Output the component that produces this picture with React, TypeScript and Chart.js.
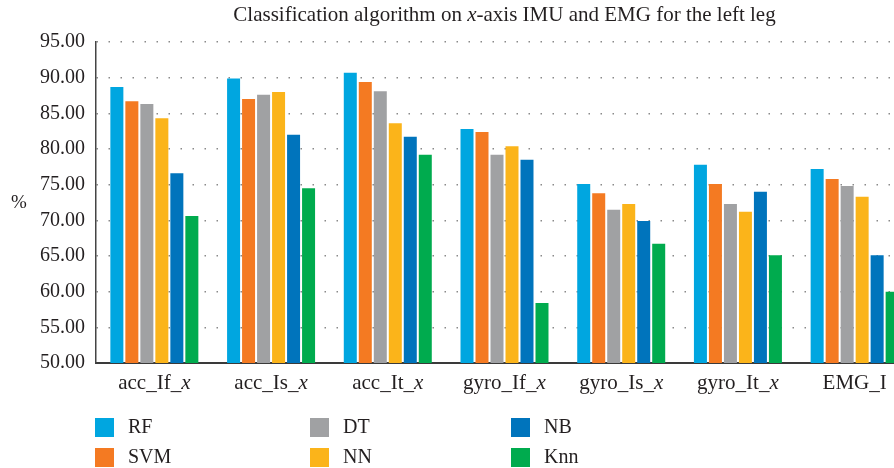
import React, { useEffect, useRef } from "react";
import { Chart, registerables } from "chart.js";

Chart.register(...registerables);

const categories = ["acc_If_x", "acc_Is_x", "acc_It_x", "gyro_If_x", "gyro_Is_x", "gyro_It_x", "EMG_I"];

const rfValues = [88.7, 89.9, 90.7, 82.8, 75.1, 77.8, 77.2];
const svmValues = [86.7, 87.0, 89.4, 82.4, 73.8, 75.1, 75.8];
const dtValues = [86.3, 87.6, 88.1, 79.2, 71.5, 72.3, 74.8];
const nnValues = [84.3, 88.0, 83.6, 80.4, 72.3, 71.2, 73.3];
const nbValues = [76.6, 82.0, 81.7, 78.5, 69.9, 74.0, 65.1];
const knnValues = [70.6, 74.5, 79.2, 58.4, 66.7, 65.1, 60.0];

const seriesNames = ["RF", "SVM", "DT", "NN", "NB", "Knn"];
const seriesColors = ["#00A6E0", "#F47A22", "#A0A1A3", "#FBB41A", "#0074BC", "#00AB4E"];

const yMin = 50;
const yMax = 95;
const yStep = 5;

const titleParts = [
  { text: "Classification algorithm on ", italic: false },
  { text: "x", italic: true },
  { text: "-axis IMU and EMG for the left leg", italic: false },
];
const yAxisTitle = "%";

const FONT = '"Liberation Serif", "DejaVu Serif", serif';
const TEXT = "#231f20";

function splitLabel(label: string) {
  if (label.endsWith("_x")) {
    return [
      { text: label.slice(0, -1), italic: false },
      { text: "x", italic: true },
    ];
  }
  return [{ text: label, italic: false }];
}

function drawParts(ctx: CanvasRenderingContext2D, parts: { text: string; italic: boolean }[], cx: number, y: number, size: number) {
  const font = (it: boolean) => `${it ? "italic " : ""}${size}px ${FONT}`;
  let total = 0;
  const widths = parts.map((p) => {
    ctx.font = font(p.italic);
    const w = ctx.measureText(p.text).width;
    total += w;
    return w;
  });
  let x = cx - total / 2;
  ctx.textAlign = "left";
  parts.forEach((p, i) => {
    ctx.font = font(p.italic);
    ctx.fillText(p.text, x, y);
    x += widths[i];
  });
}

const decorPlugin = {
  id: "decor",
  afterDraw(chart: any) {
    const ctx: CanvasRenderingContext2D = chart.ctx;
    const area = chart.chartArea;
    const xScale = chart.scales.x;
    ctx.save();
    ctx.fillStyle = TEXT;
    ctx.textBaseline = "alphabetic";
    // title
    drawParts(ctx, titleParts, (area.left + area.right) / 2, 21, 21);
    // x labels
    categories.forEach((c, i) => {
      drawParts(ctx, splitLabel(c), xScale.getPixelForValue(i), 389, 21);
    });
    // y title
    ctx.font = `19px ${FONT}`;
    ctx.textAlign = "center";
    ctx.textBaseline = "middle";
    ctx.fillText(yAxisTitle, 19, 203);
    // legend
    const cols = [-1, 214, 415];
    const rows = [418, 448];
    chart.data.datasets.forEach((ds: any, i: number) => {
      const x = area.left + cols[Math.floor(i / 2)];
      const y = rows[i % 2];
      ctx.fillStyle = ds.backgroundColor;
      ctx.fillRect(x, y, 19, 19);
      ctx.fillStyle = TEXT;
      ctx.font = `20px ${FONT}`;
      ctx.textAlign = "left";
      ctx.textBaseline = "middle";
      ctx.fillText(ds.label, x + 33, y + 10);
    });
    ctx.restore();
  },
};

export default function App() {
  const ref = useRef<HTMLCanvasElement>(null);
  useEffect(() => {
    if (!ref.current) return;
    const allValues = [rfValues, svmValues, dtValues, nnValues, nbValues, knnValues];
    const chart = new Chart(ref.current, {
      type: "bar",
      data: {
        labels: categories,
        datasets: seriesNames.map((name, i) => ({
          label: name,
          data: allValues[i],
          backgroundColor: seriesColors[i],
          borderWidth: 0,
          categoryPercentage: 0.771,
          barPercentage: 0.867,
        })),
      },
      options: {
        responsive: false,
        animation: false,
        layout: { padding: { left: 0, right: 17, top: 42, bottom: 0 } },
        plugins: {
          legend: { display: false },
          title: { display: false },
          tooltip: { enabled: false },
        },
        scales: {
          x: {
            grid: { display: false },
            border: { display: true, color: "#3a3a3a", width: 2 },
            ticks: { display: false },
            afterFit: (s: any) => {
              s.height = 105;
            },
          },
          y: {
            min: yMin,
            max: yMax,
            grid: { color: "#8a8a8a", lineWidth: 1.5, drawTicks: false },
            border: { display: true, color: "#444", width: 1.5, dash: [1.5, 10.5] },
            ticks: {
              stepSize: yStep,
              padding: 11,
              color: TEXT,
              font: { family: FONT, size: 20 },
              callback: (v: any) => Number(v).toFixed(2),
            },
            afterFit: (s: any) => {
              s.width = 96;
            },
          },
        },
      },
      plugins: [decorPlugin],
    });
    return () => chart.destroy();
  }, []);
  return (
    <div style={{ position: "absolute", left: 0, top: 0, width: 894, height: 468, overflow: "hidden", background: "#fff" }}>
      <canvas ref={ref} width={930} height={468} style={{ display: "block", width: 930, height: 468 }} />
    </div>
  );
}
